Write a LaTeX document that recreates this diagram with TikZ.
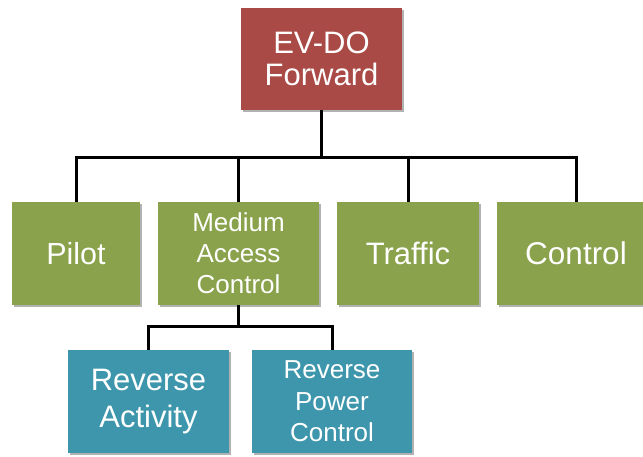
\documentclass[tikz,border=0pt]{standalone}
\usepackage{fontspec}
\setmainfont{Liberation Sans}
\usetikzlibrary{shadows}
\definecolor{boxred}{RGB}{169,74,70}
\definecolor{boxgreen}{RGB}{137,162,75}
\definecolor{boxteal}{RGB}{62,150,172}
\begin{document}
\begin{tikzpicture}[x=1pt,y=-1pt,
  box/.style={rectangle, text=white, align=center, inner sep=0pt,
    drop shadow={shadow xshift=1.5pt, shadow yshift=-2pt, opacity=0.3, fill=black}},
  redbox/.style={box, fill=boxred, minimum width=161pt, minimum height=102pt},
  greenbox/.style={box, fill=boxgreen, minimum height=103pt},
  tealbox/.style={box, fill=boxteal, minimum height=103pt},
  conn/.style={draw=black, line width=3pt, line join=miter}]
\clip (0,0) rectangle (643,456);
\node[redbox, font=\fontsize{31}{32}\selectfont] (top) at (321.5,59) {EV-DO\\Forward};
\node[greenbox, minimum width=128pt, font=\fontsize{30.5}{35}\selectfont] (pilot) at (76,253.5) {Pilot};
\node[greenbox, minimum width=161pt, font=\fontsize{26}{31}\selectfont] (mac) at (238.5,253.5) {Medium\\Access\\Control};
\node[greenbox, minimum width=142pt, font=\fontsize{31}{35}\selectfont] (traffic) at (408,253.5) {Traffic};
\node[greenbox, minimum width=158pt, font=\fontsize{31.5}{35}\selectfont] (ctrl) at (576,253.5) {Control};
\node[tealbox, minimum width=161pt, font=\fontsize{31}{37}\selectfont] (ra) at (148.5,401.5) {Reverse\\Activity};
\node[tealbox, minimum width=160pt, font=\fontsize{26}{31.5}\selectfont] (rpc) at (332,401.5) {Reverse\\Power\\Control};
\coordinate (bus) at (321.5,157);
\coordinate (bus2) at (238.5,326);
\draw[conn] (top.south) -- (bus);
\draw[conn] (pilot.north) |- (bus) -| (ctrl.north);
\draw[conn] (mac.north) -- (mac.north |- bus);
\draw[conn] (traffic.north) -- (traffic.north |- bus);
\draw[conn] (mac.south) -- (bus2);
\draw[conn] (ra.north) |- (bus2) -| (rpc.north);
\end{tikzpicture}
\end{document}
